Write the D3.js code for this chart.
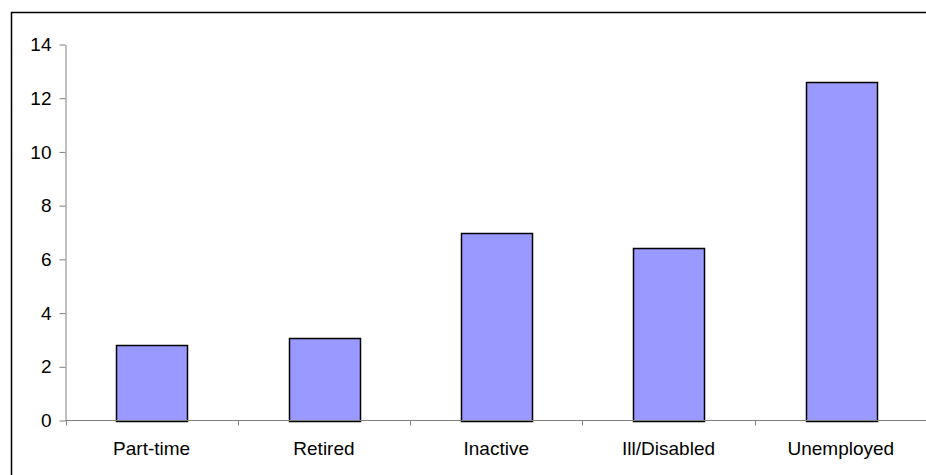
<!DOCTYPE html>
<html>
<head>
<meta charset="utf-8">
<script src="https://cdn.jsdelivr.net/npm/d3@7"></script>
<style>
  html, body { margin: 0; padding: 0; background: #fff; }
  svg { display: block; }
  text { font-family: "Liberation Sans", Arial, sans-serif; fill: #000; }
</style>
</head>
<body>
<div id="chart"></div>
<script>
"use strict";

var categories = ["Part-time", "Retired", "Inactive", "Ill/Disabled", "Unemployed"],
    values = [2.8, 3.08, 7.0, 6.43, 12.62],
    yTicks = [0, 2, 4, 6, 8, 10, 12, 14];

var width = 926,
    height = 475,
    plot = {left: 65.5, right: 927, top: 44.5, bottom: 420.5},
    barRatio = 0.41, // bar width as a share of category step
    fontSize = "19px";

var svg = d3.select("#chart").append("svg")
    .attr("width", width)
    .attr("height", height);

// outer chart border (runs off the right and bottom of the picture)
svg.append("rect")
    .attr("x", 11.5)
    .attr("y", 12.5)
    .attr("width", 1000)
    .attr("height", 1000)
    .attr("fill", "none")
    .attr("stroke", "#000")
    .attr("stroke-width", 1.5);

var x = d3.scaleBand()
    .domain(categories)
    .range([plot.left, plot.right])
    .padding(0);

var y = d3.scaleLinear()
    .domain([0, 14])
    .range([plot.bottom, plot.top]);

// bars
var bw = x.bandwidth() * barRatio;
svg.append("g")
    .selectAll("rect")
    .data(values)
    .join("rect")
    .attr("x", function (d, i) { return Math.round(x(categories[i]) + (x.bandwidth() - bw) / 2) + 0.5; })
    .attr("y", function (d) { return Math.round(y(d)) + 0.5; })
    .attr("width", Math.round(bw))
    .attr("height", function (d) { return Math.round(y(0)) - Math.round(y(d)); })
    .attr("fill", "#9999ff")
    .attr("stroke", "#000")
    .attr("stroke-width", 1.5);

// y axis
var yAxis = svg.append("g")
    .attr("transform", "translate(" + plot.left + ",0)")
    .call(d3.axisLeft(y).tickValues(yTicks).tickSize(6).tickPadding(8).tickSizeOuter(0));
yAxis.select(".domain").attr("stroke", "#808080");
yAxis.selectAll(".tick line").attr("stroke", "#808080");
yAxis.selectAll(".tick text")
    .style("font-size", fontSize)
    .style("font-family", "'Liberation Sans', Arial, sans-serif")
    .attr("fill", "#000");

// x axis line and ticks at category boundaries
var xg = svg.append("g");
xg.append("line")
    .attr("x1", plot.left)
    .attr("x2", plot.right)
    .attr("y1", plot.bottom)
    .attr("y2", plot.bottom)
    .attr("stroke", "#808080");
var bounds = categories.map(function (c) { return x(c); }).concat([plot.right]);
xg.selectAll("line.tick")
    .data(bounds)
    .join("line")
    .attr("class", "tick")
    .attr("x1", function (d) { return Math.round(d) + 0.5; })
    .attr("x2", function (d) { return Math.round(d) + 0.5; })
    .attr("y1", plot.bottom)
    .attr("y2", plot.bottom + 5)
    .attr("stroke", "#808080");
xg.selectAll("text")
    .data(categories)
    .join("text")
    .attr("x", function (d) { return x(d) + x.bandwidth() / 2; })
    .attr("y", 455)
    .attr("text-anchor", "middle")
    .style("font-size", fontSize)
    .text(function (d) { return d; });
</script>
</body>
</html>
